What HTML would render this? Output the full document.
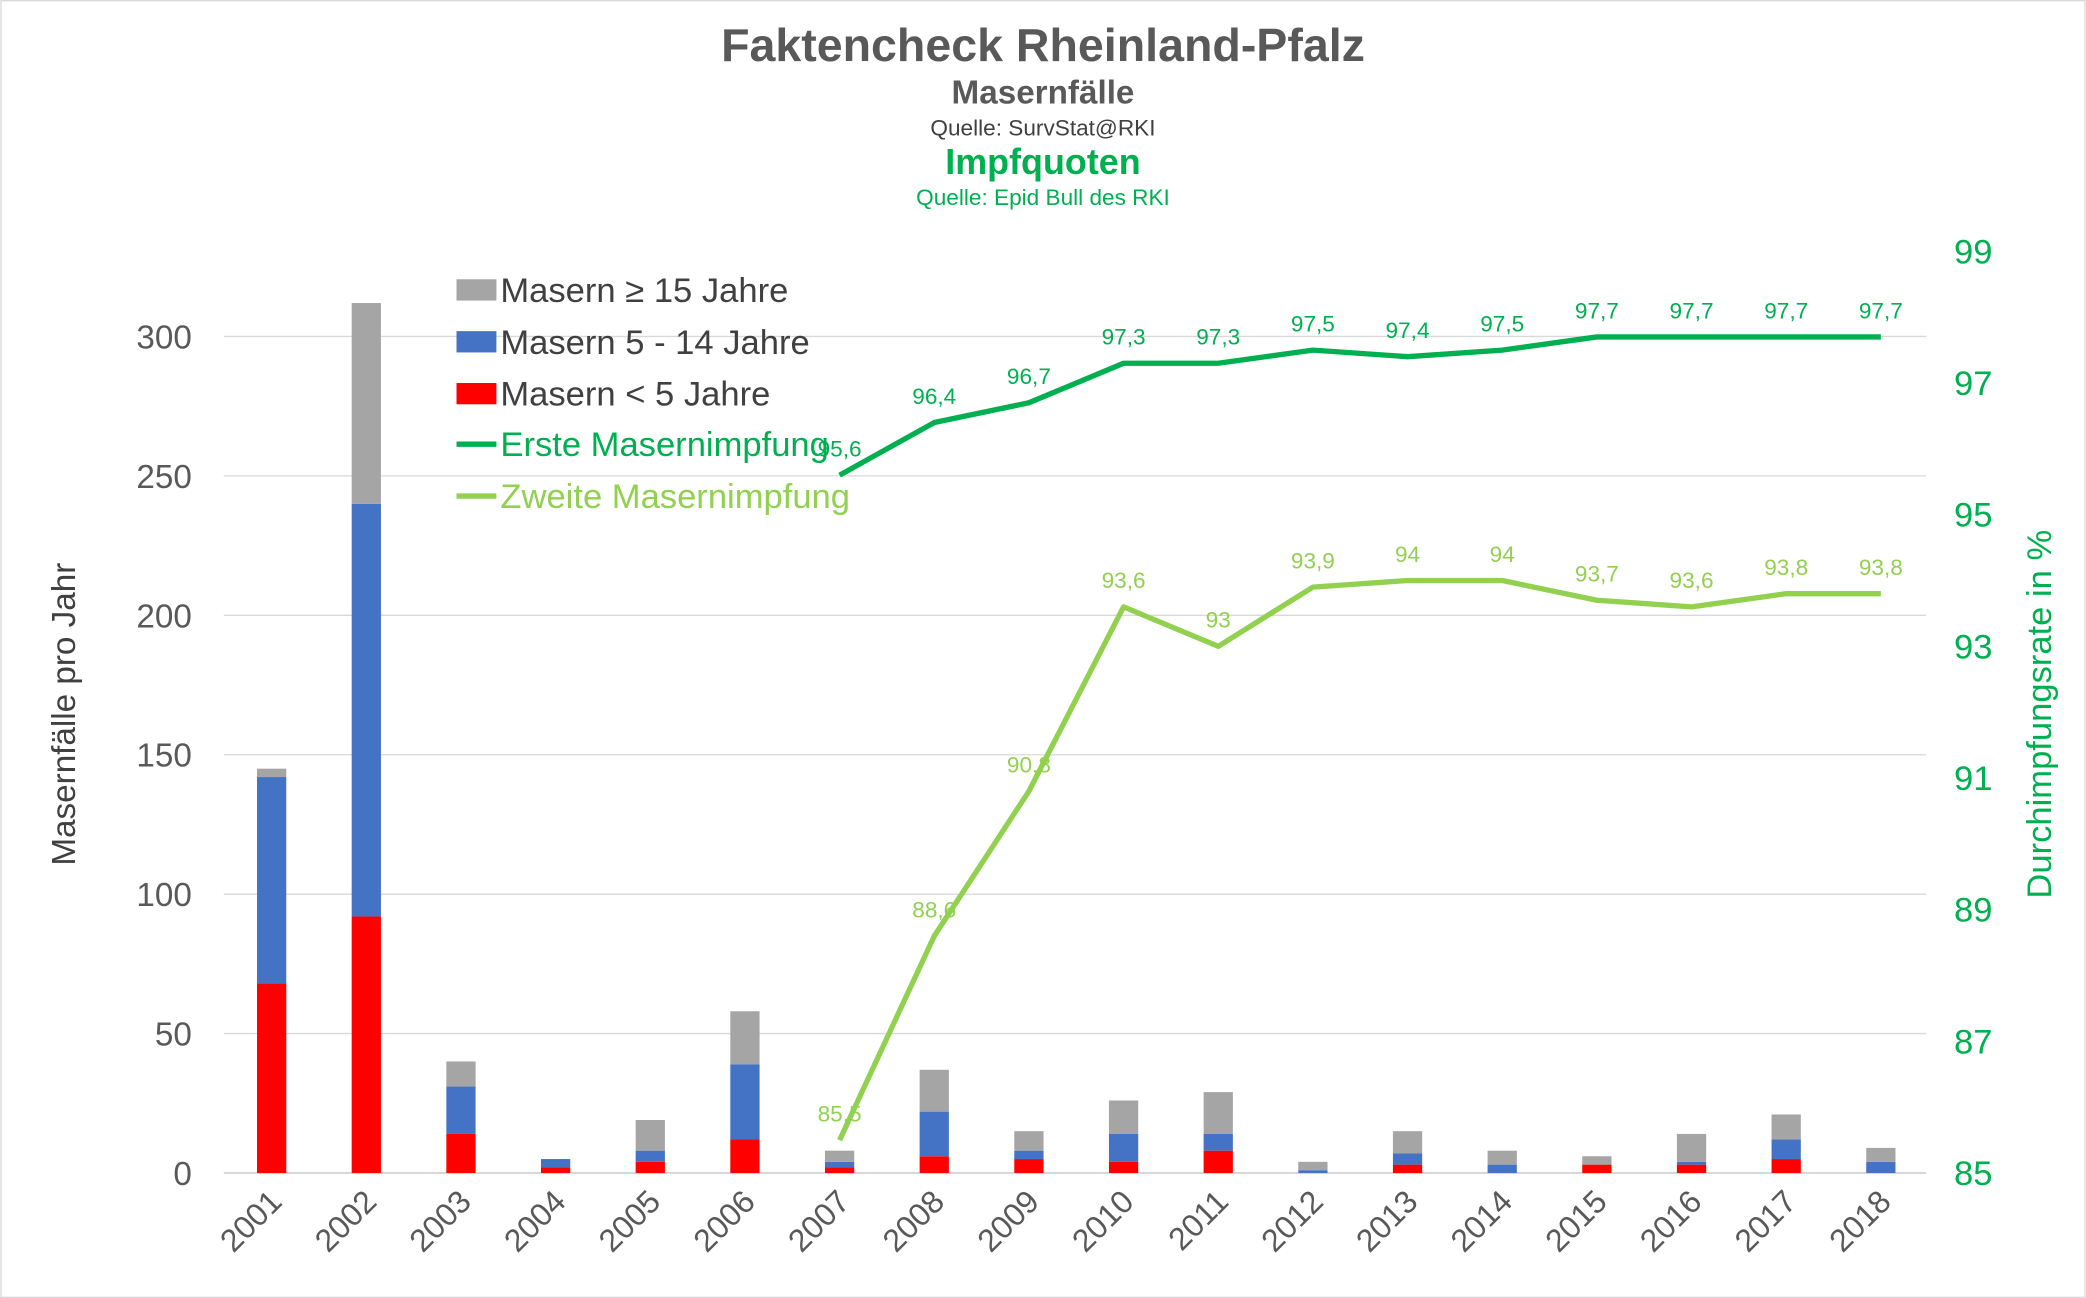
<!DOCTYPE html>
<html><head><meta charset="utf-8"><style>
html,body{margin:0;padding:0;background:#fff}
svg{display:block;font-family:"Liberation Sans",Arial,sans-serif}
</style></head><body>
<svg id="chart" width="2086" height="1298" viewBox="0 0 1568 976" xmlns="http://www.w3.org/2000/svg">
<rect x="0.5" y="0.5" width="1567" height="975" fill="#fff" stroke="#d9d9d9"/>
<g text-anchor="middle">
<text x="784" y="46" font-size="35" font-weight="bold" fill="#595959">Faktencheck Rheinland-Pfalz</text>
<text x="784" y="78" font-size="25" font-weight="bold" fill="#595959">Masernfälle</text>
<text x="784" y="102" font-size="17" fill="#404040">Quelle: SurvStat@RKI</text>
<text x="784" y="131" font-size="27" font-weight="bold" fill="#00B050">Impfquoten</text>
<text x="784" y="154" font-size="17" fill="#00B050">Quelle: Epid Bull des RKI</text>
</g>
<g id="grid"></g>
<g id="bars"></g>
<g id="lines"></g>
<g id="axes"></g>
<text transform="translate(56,537) rotate(-90)" text-anchor="middle" font-size="25" fill="#404040">Masernfälle pro Jahr</text>
<text transform="translate(1542,537) rotate(-90)" text-anchor="middle" font-size="26" fill="#00B050">Durchimpfungsrate in %</text>
<g font-size="26" fill="#404040">
<rect x="343" y="210" width="30" height="16" fill="#A5A5A5"/>
<text x="376" y="227">Masern ≥ 15 Jahre</text>
<rect x="343" y="249" width="30" height="16" fill="#4472C4"/>
<text x="376" y="266">Masern 5 - 14 Jahre</text>
<rect x="343" y="288" width="30" height="16" fill="#FF0000"/>
<text x="376" y="305">Masern &lt; 5 Jahre</text>
<line x1="343" y1="334" x2="373" y2="334" stroke="#00B050" stroke-width="4"/>
<text x="376" y="343" fill="#00B050">Erste Masernimpfung</text>
<line x1="343" y1="373" x2="373" y2="373" stroke="#92D050" stroke-width="4"/>
<text x="376" y="382" fill="#92D050">Zweite Masernimpfung</text>
</g>
</svg>
<script>
const years=["2001","2002","2003","2004","2005","2006","2007","2008","2009","2010","2011","2012","2013","2014","2015","2016","2017","2018"];
const under5=[68,92,14,2,4,12,2,6,5,4,8,0,3,0,3,3,5,0];
const age5to14=[74,148,17,3,4,27,2,16,3,10,6,1,4,3,0,1,7,4];
const age15plus=[3,72,9,0,11,19,4,15,7,12,15,3,8,5,3,10,9,5];
const lineYears=["2007","2008","2009","2010","2011","2012","2013","2014","2015","2016","2017","2018"];
const firstDose=[95.6,96.4,96.7,97.3,97.3,97.5,97.4,97.5,97.7,97.7,97.7,97.7];
const secondDose=[85.5,88.6,90.8,93.6,93,93.9,94,94,93.7,93.6,93.8,93.8];
const leftTicks=[0,50,100,150,200,250,300];
const rightTicks=[85,87,89,91,93,95,97,99];

const NS="http://www.w3.org/2000/svg";
function mk(tag,attrs,parent,txt){const e=document.createElementNS(NS,tag);for(const k in attrs)e.setAttribute(k,attrs[k]);if(txt!==undefined)e.textContent=txt;parent.appendChild(e);return e;}
const x=i=>204+i*(1414-204)/17;
const yL=v=>882-v*(882-253)/300;
const yR=v=>882-(v-85)*(882-189)/14;
const G=document.getElementById('grid'),B=document.getElementById('bars'),L=document.getElementById('lines'),A=document.getElementById('axes');
leftTicks.forEach(t=>{
  const ln=mk('line',{x1:168,x2:1448,y1:yL(t),y2:yL(t),stroke:t===0?'#bfbfbf':'#d9d9d9','stroke-width':1},G);
  
  
  const tx=mk('text',{x:144,y:yL(t)+9,'text-anchor':'end','font-size':25,fill:'#595959'},A,String(t));
  
  
});
rightTicks.forEach(t=>{
  const tx=mk('text',{x:1469,y:yR(t)+9,'font-size':26,fill:'#00B050'},A,String(t));
  
  
});
const bw=22;
years.forEach((yr,i)=>{
  const segs=[[under5[i],'#FF0000','under5'],[age5to14[i],'#4472C4','5-14'],[age15plus[i],'#A5A5A5','15plus']];
  let base=0;
  segs.forEach(s=>{
    const r=mk('rect',{x:x(i)-bw/2,y:yL(base+s[0]),width:bw,height:yL(base)-yL(base+s[0]),fill:s[1]},B);
    
    
    base+=s[0];
  });
  const tx=mk('text',{transform:`translate(${x(i)+9},${905}) rotate(-45)`,'text-anchor':'end','font-size':24,fill:'#595959'},A,yr);
  
  
});
function drawLine(vals,color,name){
  const pts=vals.map((v,j)=>[x(years.indexOf(lineYears[j])),yR(v)]);
  const p=mk('polyline',{points:pts.map(p=>p.join(',')).join(' '),fill:'none',stroke:color,'stroke-width':4,'stroke-linejoin':'round'},L);
  
  
  vals.forEach((v,j)=>{
    const t=mk('text',{x:pts[j][0],y:pts[j][1]-14,'text-anchor':'middle','font-size':17,fill:color},L,String(v).replace('.',','));
    
    
  });
}
drawLine(firstDose,'#00B050','first-dose');
drawLine(secondDose,'#92D050','second-dose');
</script>
</body></html>
